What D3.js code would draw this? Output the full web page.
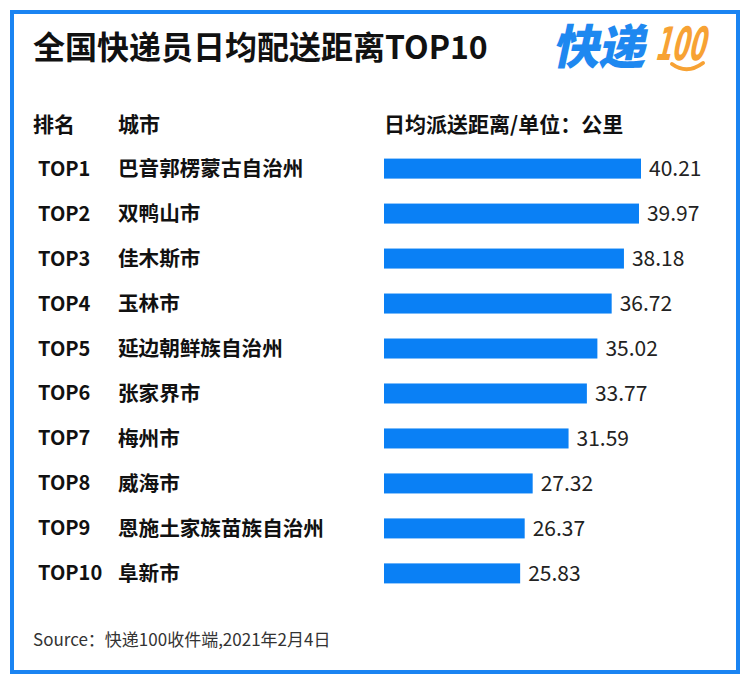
<!DOCTYPE html>
<html>
<head>
<meta charset="utf-8">
<script src="https://cdn.jsdelivr.net/npm/d3@7"></script>
<style>
  html, body { margin: 0; padding: 0; background: #ffffff; }
  svg { display: block; }
</style>
</head>
<body>
<div id="chart"></div>
<script>
const title = "全国快递员日均配送距离TOP10";
const ranks = ["TOP1","TOP2","TOP3","TOP4","TOP5","TOP6","TOP7","TOP8","TOP9","TOP10"];
const cities = ["巴音郭楞蒙古自治州","双鸭山市","佳木斯市","玉林市","延边朝鲜族自治州","张家界市","梅州市","威海市","恩施土家族苗族自治州","阜新市"];
const distances = [40.21, 39.97, 38.18, 36.72, 35.02, 33.77, 31.59, 27.32, 26.37, 25.83];
const headers = ["排名", "城市", "日均派送距离/单位：公里"];
const source = "Source：快递100收件端,2021年2月4日";

const W = 750, H = 681;
const FONT = "'Noto Sans CJK SC','Noto Sans',sans-serif";
const BLUE = "#0a80f5";

const svg = d3.select("#chart").append("svg")
  .attr("width", W).attr("height", H)
  .style("font-family", FONT);

svg.append("rect").attr("width", W).attr("height", H).attr("fill", "#fff");

// border
svg.append("rect")
  .attr("x", 12).attr("y", 12).attr("width", 726).attr("height", 660)
  .attr("fill", "none").attr("stroke", "#1a84f2").attr("stroke-width", 4);

// title
svg.append("text")
  .attr("x", 33).attr("y", 59)
  .attr("font-size", 32).attr("font-weight", 700).attr("fill", "#111")
  .text(title);

// logo
const logo = svg.append("g").attr("transform", "translate(556,64)");
logo.append("text")
  .attr("transform", "skewX(-12)")
  .attr("x", -4).attr("y", 0)
  .attr("font-size", 47).attr("font-weight", 900).attr("fill", "#1e88f0")
  .attr("letter-spacing", -1)
  .text("快递");
logo.append("text")
  .attr("transform", "translate(98,-4) skewX(-14) scale(0.6,1.15)")
  .attr("x", 0).attr("y", 0)
  .attr("font-size", 40).attr("font-weight", 700).attr("fill", "#f7a234")
  .attr("font-family", "'DejaVu Sans',sans-serif")
  .text("100");
logo.append("path")
  .attr("d", "M116,0 Q131,11 147,-1")
  .attr("fill", "none").attr("stroke", "#f7a234").attr("stroke-width", 4)
  .attr("stroke-linecap", "round");

// headers
const headerY = 125;
const hx = [33, 118, 384];
svg.selectAll("text.header").data(headers).join("text")
  .attr("class", "header")
  .attr("x", (d, i) => hx[i]).attr("y", headerY)
  .attr("dy", "0.35em")
  .attr("font-size", 21).attr("font-weight", 700).attr("fill", "#111")
  .text(d => d);

// scales
const y = d3.scaleBand()
  .domain(ranks)
  .range([146, 596])
  .paddingInner(0.555).paddingOuter(0.28);

const x = d3.scaleLinear()
  .domain([9.63, 40.21])
  .range([384, 641]);

const rows = svg.append("g").selectAll("g").data(ranks).join("g");

rows.append("text")
  .attr("x", 38)
  .attr("y", d => y(d) + y.bandwidth() / 2)
  .attr("dy", "0.35em")
  .attr("font-size", 20).attr("font-weight", 700).attr("fill", "#111")
  .text(d => d);

rows.append("text")
  .attr("x", 118)
  .attr("y", d => y(d) + y.bandwidth() / 2)
  .attr("dy", "0.35em")
  .attr("font-size", 20.6).attr("font-weight", 700).attr("fill", "#111")
  .text((d, i) => cities[i]);

rows.append("rect")
  .attr("x", x(x.domain()[0]))
  .attr("y", d => y(d))
  .attr("height", y.bandwidth())
  .attr("width", (d, i) => x(distances[i]) - x(x.domain()[0]))
  .attr("fill", BLUE);

rows.append("text")
  .attr("x", (d, i) => x(distances[i]) + 8)
  .attr("y", d => y(d) + y.bandwidth() / 2)
  .attr("dy", "0.35em")
  .attr("font-size", 21).attr("font-weight", 400).attr("fill", "#222")
  .text((d, i) => distances[i].toFixed(2));

// source
svg.append("text")
  .attr("x", 33).attr("y", 640)
  .attr("dy", "0.35em")
  .attr("font-size", 17).attr("fill", "#333")
  .text(source);
</script>
</body>
</html>
